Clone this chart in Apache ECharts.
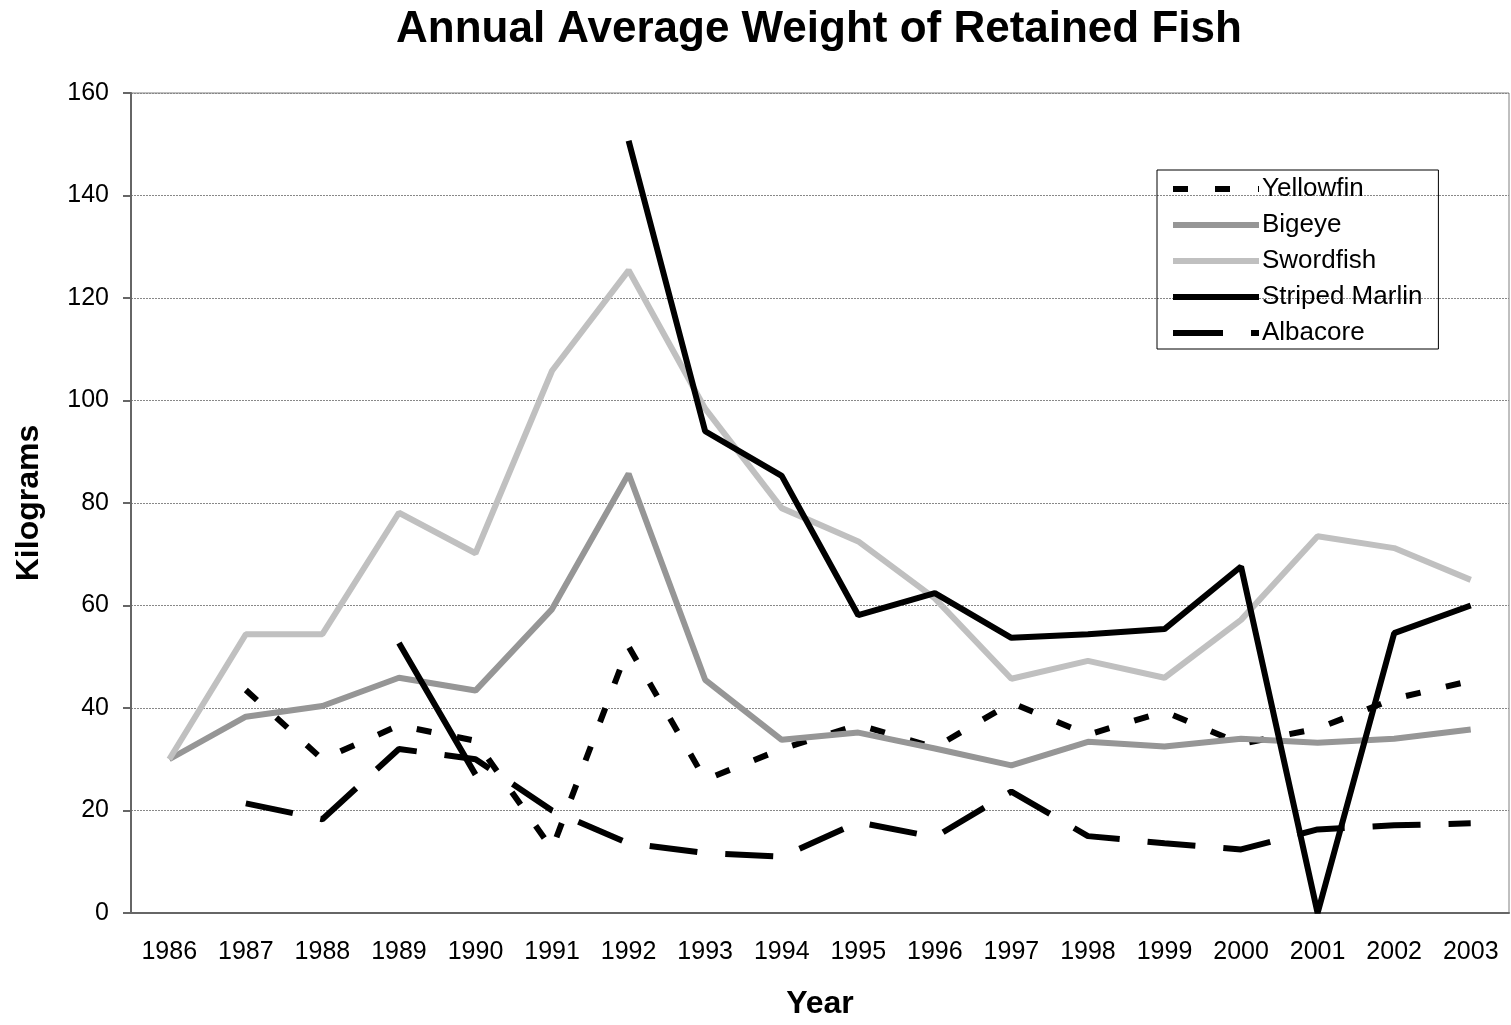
<!DOCTYPE html>
<html>
<head>
<meta charset="utf-8">
<script src="https://cdn.jsdelivr.net/npm/echarts@6/dist/echarts.min.js"></script>
<style>
  html, body { margin: 0; padding: 0; background: #fff; }
  #chart { width: 1511px; height: 1025px; }
</style>
</head>
<body>
<div id="chart"></div>
<script>
var years = ['1986', '1987', '1988', '1989', '1990', '1991', '1992', '1993', '1994',
             '1995', '1996', '1997', '1998', '1999', '2000', '2001', '2002', '2003'];
var yellowfin = [null, 43.5, 30, 36.6, 33.6, 12.5, 52, 26, 32, 36.7, 32.3, 41, 34.8, 39.3, 33, 36, 41.8, 45.3];
var bigeye = [30, 38.3, 40.4, 45.9, 43.4, 59.3, 85.7, 45.5, 33.8, 35.2, 32.1, 28.8, 33.4, 32.5, 34, 33.2, 34, 35.8];
var swordfish = [30, 54.4, 54.4, 78.1, 70.2, 105.8, 125.4, 98.4, 79, 72.5, 61.4, 45.7, 49.2, 45.9, 57.2, 73.5, 71.2, 65];
var stripedMarlin = [null, null, null, 52.7, 27, null, 150.7, 94, 85.3, 58.1, 62.4, 53.7, 54.4, 55.4, 67.6, 0, 54.6, 60];
var albacore = [null, 21.4, 18.3, 32, 30, 20, 13.6, 11.7, 11, 17.7, 14.8, 23.7, 15, 13.6, 12.4, 16.3, 17.1, 17.5];

var font = 'Arial, "Liberation Sans", sans-serif';

// legend keys drawn as little bars, like the excel ones
var solidIcon = 'path://M0,0h86v6h-86z';
var shortDashIcon = 'path://M0,0h15v6h-15z M42,0h15v6h-15z M85,0h1v6h-1z';
var longDashIcon = 'path://M0,0h50v6h-50z M78,0h8v6h-8z';

function line(name, data, color, type, icon) {
  return {
    name: name,
    type: 'line',
    data: data,
    symbol: 'none',
    connectNulls: false,
    animation: false,
    legendIcon: icon,
    lineStyle: { color: color, width: 6, type: type, cap: 'butt' },
    itemStyle: { color: color }
  };
}

var myChart = echarts.init(document.getElementById('chart'));
var option = {
  backgroundColor: '#fff',
  title: {
    text: 'Annual Average Weight of Retained Fish',
    left: 391,
    top: 3,
    textStyle: { fontFamily: font, fontSize: 44, fontWeight: 'bold', color: '#000' }
  },
  legend: {
    orient: 'vertical',
    left: 1157,
    top: 170,
    width: 285,
    padding: [4, 16, 1, 16],
    itemGap: 6,
    itemWidth: 86,
    itemHeight: 6,
    symbolKeepAspect: false,
    borderColor: '#000',
    borderWidth: 1,
    textStyle: { fontFamily: font, fontSize: 26, lineHeight: 30, color: '#000', padding: [0, 0, 0, -2] },
    data: [
      { name: 'Yellowfin', icon: shortDashIcon },
      { name: 'Bigeye', icon: solidIcon },
      { name: 'Swordfish', icon: solidIcon },
      { name: 'Striped Marlin', icon: solidIcon },
      { name: 'Albacore', icon: longDashIcon }
    ]
  },
  grid: { left: 131, right: 2, top: 93, bottom: 109, show: true, borderColor: '#808080', borderWidth: 1 },
  xAxis: {
    type: 'category',
    data: years,
    boundaryGap: true,
    name: 'Year',
    nameLocation: 'middle',
    nameGap: 75,
    nameTextStyle: { fontFamily: font, fontSize: 32, fontWeight: 'bold', color: '#000' },
    axisLine: { lineStyle: { color: '#666', width: 2 } },
    axisTick: { length: 10, lineStyle: { color: '#666', width: 2 } },
    axisLabel: { fontFamily: font, fontSize: 25, color: '#000', margin: 27, interval: 0 }
  },
  yAxis: {
    type: 'value',
    min: 0,
    max: 160,
    interval: 20,
    name: 'Kilograms',
    nameLocation: 'middle',
    nameGap: 86,
    nameTextStyle: { fontFamily: font, fontSize: 32, fontWeight: 'bold', color: '#000' },
    axisLine: { show: true, lineStyle: { color: '#666', width: 2 } },
    axisTick: { show: true, length: 8, lineStyle: { color: '#666', width: 2 } },
    axisLabel: { fontFamily: font, fontSize: 25, color: '#000', margin: 22 },
    splitLine: { lineStyle: { color: '#888', type: [2, 1], width: 1 } }
  },
  series: [
    line('Yellowfin', yellowfin, '#000', [15, 26], shortDashIcon),
    line('Bigeye', bigeye, '#969696', 'solid', solidIcon),
    line('Swordfish', swordfish, '#c0c0c0', 'solid', solidIcon),
    line('Striped Marlin', stripedMarlin, '#000', 'solid', solidIcon),
    line('Albacore', albacore, '#000', [48, 28], longDashIcon)
  ]
};
myChart.setOption(option);
</script>
</body>
</html>
